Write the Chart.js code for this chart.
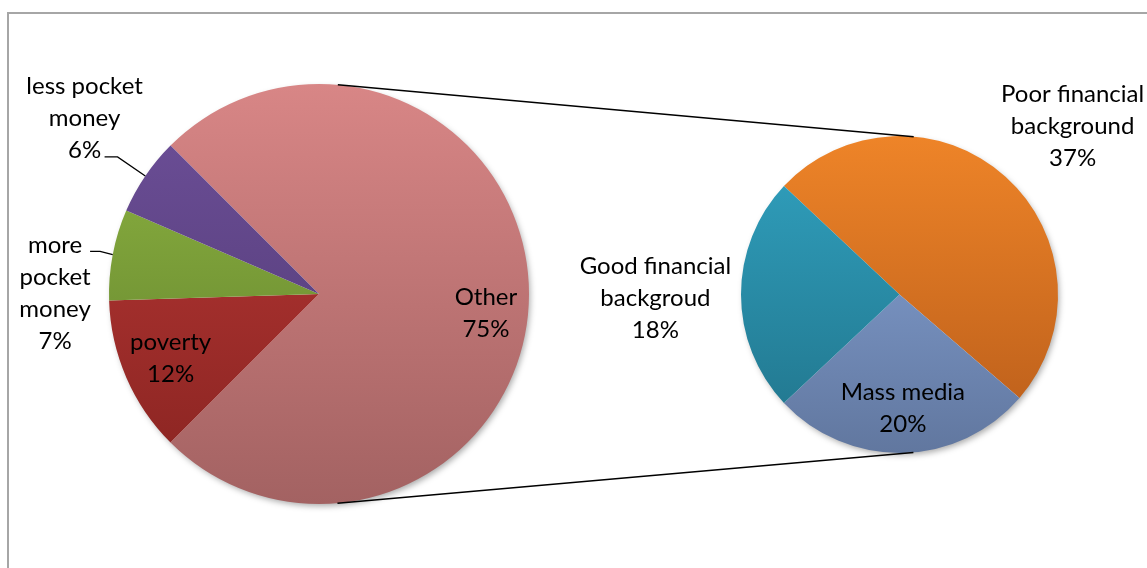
<!DOCTYPE html>
<html>
<head>
<meta charset="utf-8">
<script src="https://cdn.jsdelivr.net/npm/chart.js@4/dist/chart.umd.min.js"></script>
<style>
  html, body { margin: 0; padding: 0; background: #fff; overflow: hidden; }
  #wrap { position: relative; width: 1147px; height: 568px; overflow: hidden; }
  #frame { position: absolute; left: 7px; top: 12px; width: 1200px; height: 600px; border: 2px solid #a6a6a6; }
  canvas { position: absolute; left: 0; top: 0; }
</style>
</head>
<body>
<div id="wrap">
  <div id="frame"></div>
  <canvas id="mainPie" width="1147" height="568"></canvas>
  <canvas id="subPie" width="1147" height="568"></canvas>
</div>
<script>
// main pie: "Other" is split out into the secondary pie
const mainLabels = ['Other', 'poverty', 'more pocket money', 'less pocket money'];
const mainValues = [75, 12, 7, 6];
const mainLines = [['Other'], ['poverty'], ['more', 'pocket', 'money'], ['less pocket', 'money']];

const subLabels = ['Poor financial background', 'Mass media', 'Good financial backgroud'];
const subValues = [37, 20, 18];
const subLines = [['Poor financial', 'background'], ['Mass media'], ['Good financial', 'backgroud']];

// top / bottom shade of each slice
const mainColors = [['#d88686', '#a36262'], ['#bd3a38', '#872320'], ['#91b843', '#5c7a2a'], ['#6e509a', '#4d376f']];
const subColors = [['#ee8428', '#b85c1a'], ['#8aa8dc', '#61779f'], ['#31a2c0', '#20738a']];

// label placement along each slice's mid angle (f = radius factor, n = pixel nudge)
const mainPlace = [
  { f: 0.795, nx: 0, ny: 19 },
  { f: 0.77, nx: 0, ny: 0 },
  { f: 1.26, nx: -4, ny: 49, leader: [45, -42, 35] },
  { f: 1.39, nx: 7, ny: -12, leader: [33, 39, 20] }
];
const subPlace = [
  { f: 1.5, nx: 14, ny: 8 },
  { f: 0.72, nx: 1, ny: 0 },
  { f: 1.54, nx: 0, ny: 4 }
];

const FONT = '24px Lato, "Open Sans", sans-serif';
const LINE_H = 32;

function shade(pairs) {
  return (c) => {
    const area = c.chart.chartArea;
    const [top, bottom] = pairs[c.dataIndex];
    if (!area) return top;
    const g = c.chart.ctx.createLinearGradient(0, area.top, 0, area.bottom);
    g.addColorStop(0, top);
    g.addColorStop(1, bottom);
    return g;
  };
}

// soft drop shadow under the whole pie
const pieShadow = {
  id: 'pieShadow',
  beforeDatasetsDraw(chart) {
    const arc = chart.getDatasetMeta(0).data[0];
    if (!arc) return;
    const p = arc.getProps(['x', 'y', 'outerRadius'], true);
    const ctx = chart.ctx;
    ctx.save();
    ctx.shadowColor = 'rgba(0,0,0,0.35)';
    ctx.shadowBlur = 6;
    ctx.shadowOffsetX = 2;
    ctx.shadowOffsetY = 3;
    ctx.fillStyle = '#fff';
    ctx.beginPath();
    ctx.arc(p.x, p.y, p.outerRadius - 1, 0, Math.PI * 2);
    ctx.fill();
    ctx.restore();
  }
};

const sliceLabels = {
  id: 'sliceLabels',
  afterDatasetsDraw(chart, args, opts) {
    const ctx = chart.ctx;
    const values = chart.data.datasets[0].data;
    chart.getDatasetMeta(0).data.forEach((arc, i) => {
      const p = arc.getProps(['x', 'y', 'startAngle', 'endAngle', 'outerRadius'], true);
      const mid = (p.startAngle + p.endAngle) / 2;
      const ux = Math.cos(mid), uy = Math.sin(mid);
      const pl = opts.place[i];
      const cx = p.x + ux * p.outerRadius * pl.f + pl.nx;
      const cy = p.y + uy * p.outerRadius * pl.f + pl.ny;
      const lines = opts.lines[i].concat(values[i] + '%');

      ctx.save();
      if (pl.leader) {
        ctx.strokeStyle = '#000';
        ctx.lineWidth = 1.3;
        ctx.beginPath();
        ctx.moveTo(p.x + ux * p.outerRadius, p.y + uy * p.outerRadius);
        ctx.lineTo(cx + pl.leader[0], cy + pl.leader[1]);
        ctx.lineTo(cx + pl.leader[2], cy + pl.leader[1]);
        ctx.stroke();
      }
      ctx.font = FONT;
      ctx.fillStyle = '#000';
      ctx.textAlign = 'center';
      ctx.textBaseline = 'middle';
      const y0 = cy - (lines.length - 1) * LINE_H / 2;
      lines.forEach((t, k) => ctx.fillText(t, cx, y0 + k * LINE_H));
      ctx.restore();
    });
  }
};

function pieOptions(padding, rotation, lines, place) {
  return {
    responsive: false,
    animation: false,
    rotation: rotation,
    layout: { padding: padding },
    events: [],
    plugins: {
      legend: { display: false },
      tooltip: { enabled: false },
      sliceLabels: { lines: lines, place: place }
    }
  };
}

const mainChart = new Chart(document.getElementById('mainPie').getContext('2d'), {
  type: 'pie',
  data: {
    labels: mainLabels,
    datasets: [{
      data: mainValues,
      backgroundColor: shade(mainColors),
      borderWidth: 0
    }]
  },
  options: pieOptions({ left: 109, right: 618, top: 84, bottom: 64 }, 315, mainLines, mainPlace),
  plugins: [pieShadow, sliceLabels]
});

// the two lines joining the pies, tangent to both circles
const connectors = {
  id: 'connectors',
  afterDatasetsDraw(chart) {
    const a = mainChart.getDatasetMeta(0).data[0].getProps(['x', 'y', 'outerRadius'], true);
    const b = chart.getDatasetMeta(0).data[0].getProps(['x', 'y', 'outerRadius'], true);
    const dx = b.x - a.x, dy = b.y - a.y;
    const dist = Math.hypot(dx, dy);
    const phi = Math.atan2(dy, dx);
    const alpha = Math.acos((a.outerRadius - b.outerRadius) / dist);
    const ctx = chart.ctx;
    ctx.save();
    ctx.strokeStyle = '#000';
    ctx.lineWidth = 1.5;
    [phi - alpha, phi + alpha].forEach(t => {
      const nx = Math.cos(t), ny = Math.sin(t);
      ctx.beginPath();
      ctx.moveTo(a.x + nx * a.outerRadius, a.y + ny * a.outerRadius);
      ctx.lineTo(b.x + nx * b.outerRadius, b.y + ny * b.outerRadius);
      ctx.stroke();
    });
    ctx.restore();
  }
};

new Chart(document.getElementById('subPie').getContext('2d'), {
  type: 'pie',
  data: {
    labels: subLabels,
    datasets: [{
      data: subValues,
      backgroundColor: shade(subColors),
      borderWidth: 0
    }]
  },
  options: pieOptions({ left: 741, right: 89, top: 136, bottom: 115 }, 313.2, subLines, subPlace),
  plugins: [pieShadow, connectors, sliceLabels]
});
</script>
</body>
</html>
